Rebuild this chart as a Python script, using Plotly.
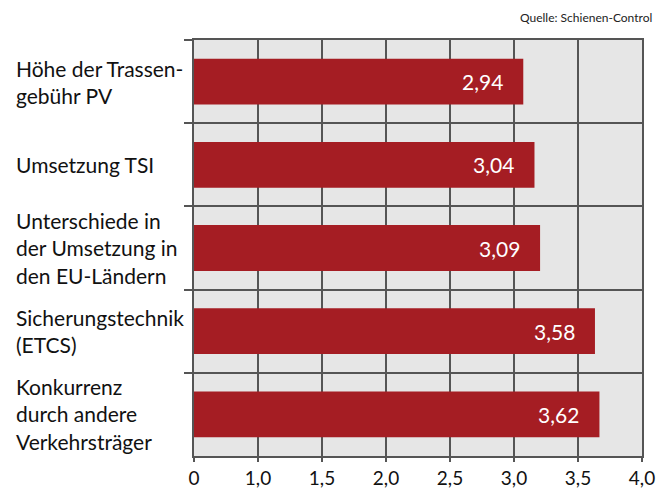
import plotly.graph_objects as go

categories = [
    "Höhe der Trassen-<br>gebühr PV",
    "Umsetzung TSI",
    "Unterschiede in<br>der Umsetzung in<br>den EU-Ländern",
    "Sicherungstechnik<br>(ETCS)",
    "Konkurrenz<br>durch andere<br>Verkehrsträger",
]
cat_ids = ["c1", "c2", "c3", "c4", "c5"]
values = [2.94, 3.04, 3.09, 3.58, 3.62]
tick_labels = ["0", "1,0", "1,5", "2,0", "2,5", "3,0", "3,5", "4,0"]
x_max = 4.0
tick_positions = [x_max * i / (len(tick_labels) - 1) for i in range(len(tick_labels))]

BAR = "#A51D23"
GRID = "#555555"
FONT = "Lato"

fig = go.Figure()
fig.add_trace(go.Bar(
    x=values, y=cat_ids, orientation="h",
    marker=dict(color=BAR, line=dict(width=0)),
    hoverinfo="skip",
))

annotations = []
for cid, lab in zip(cat_ids, categories):
    annotations.append(dict(
        x=(14 - 194) / 448, xref="paper", y=cid, yref="y",
        text=lab, showarrow=False, xanchor="left", yanchor="middle", align="left",
        font=dict(family=FONT, size=21, color="#111111"),
    ))
for cid, v in zip(cat_ids, values):
    annotations.append(dict(
        x=v, xref="x", y=cid, yref="y",
        text=f"{v:.2f}".replace(".", ","), showarrow=False,
        xanchor="right", yanchor="middle", xshift=-18,
        font=dict(family=FONT, size=21, color="white"),
    ))
annotations.append(dict(
    x=1.027, xref="paper", y=1.053, yref="paper",
    text="Quelle: Schienen-Control", showarrow=False,
    xanchor="right", yanchor="middle",
    font=dict(family=FONT, size=12, color="#222222"),
))

fig.update_layout(
    width=657, height=490,
    margin=dict(l=194, r=15, t=40, b=34, autoexpand=False),
    paper_bgcolor="white", plot_bgcolor="#E6E6E6",
    bargap=0.45, showlegend=False,
    annotations=annotations,
    font=dict(family=FONT, color="#111111"),
)
fig.update_xaxes(
    range=[0, x_max], tickmode="array", tickvals=tick_positions, ticktext=tick_labels,
    showgrid=True, gridcolor=GRID, gridwidth=2,
    showline=True, linecolor=GRID, linewidth=2, mirror=True,
    ticks="outside", ticklen=4, tickwidth=2, tickcolor=GRID,
    tickfont=dict(family=FONT, size=19, color="#111111"),
    zeroline=False, fixedrange=True,
)
fig.update_yaxes(
    type="category", categoryorder="array", categoryarray=cat_ids,
    range=[4.5, -0.5], tickson="boundaries",
    showgrid=True, gridcolor=GRID, gridwidth=2,
    showline=True, linecolor=GRID, linewidth=2, mirror=True,
    ticks="outside", ticklen=8, tickwidth=2, tickcolor=GRID,
    showticklabels=False, zeroline=False, fixedrange=True,
)

fig.write_html(
    "out.html",
    config={"displayModeBar": False},
    post_script="document.body.style.margin='0';document.body.style.overflow='hidden';",
)
